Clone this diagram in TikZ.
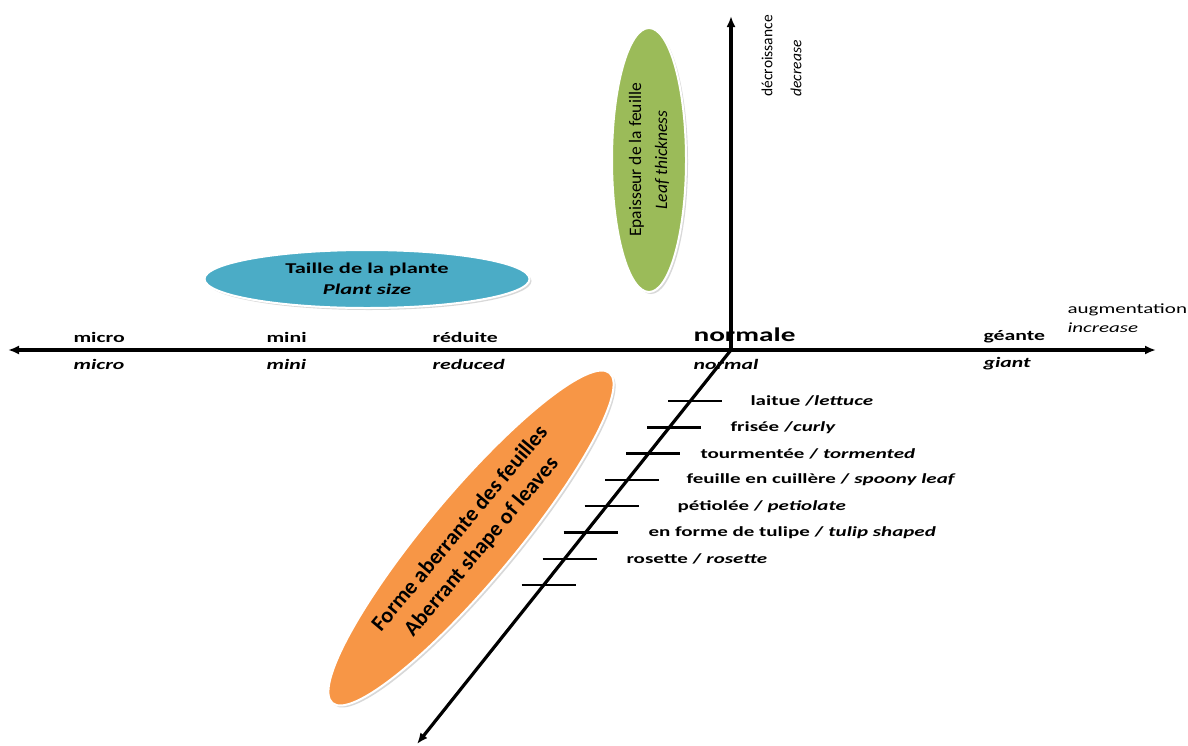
\documentclass[tikz,border=0pt]{standalone}
\usepackage{fontspec}
\setmainfont{Carlito}
\newfontfamily\widefont{Carlito}[FakeStretch=1.5]
\usetikzlibrary{arrows.meta,shapes.geometric,shadows,calc}

\definecolor{sizeblue}{HTML}{4BACC6}
\definecolor{leafgreen}{HTML}{9BBB59}
\definecolor{shapeorange}{HTML}{F79646}

\tikzset{
  axis/.style={line width=3.2pt, -{Latex[length=11pt,width=9pt]}},
  tickmark/.style={line width=2.4pt},
  blob/.style={ellipse, inner sep=0pt, draw=white, line width=2pt, align=center,
    drop shadow={shadow xshift=2pt, shadow yshift=-2pt, fill=black!30}},
  fr/.style={anchor=west, font=\widefont\bfseries\fontsize{14.5}{17}\selectfont},
  en/.style={anchor=west, font=\widefont\bfseries\itshape\fontsize{14.5}{17}\selectfont},
  kind/.style={anchor=west, font=\widefont\bfseries\fontsize{14}{16}\selectfont},
}

\begin{document}
\begin{tikzpicture}[x=1pt, y=-1pt]
    \useasboundingbox (0,0) rectangle (1188,745);

    % ellipses
    \node[blob, fill=sizeblue, minimum width=325pt, minimum height=58pt,
      font=\widefont\bfseries\fontsize{15}{21}\selectfont] (size) at (367,279)
      {Taille de la plante\\ \itshape Plant size};
    \node[blob, fill=leafgreen, minimum width=264pt, minimum height=74pt, rotate=90,
      font=\fontsize{17.5}{26}\selectfont] (thick) at (649,160)
      {Epaisseur de la feuille\\ \itshape Leaf thickness};
    \node[blob, fill=shapeorange, minimum width=431pt, minimum height=88pt, rotate=50,
      font=\bfseries\fontsize{22}{28}\selectfont] (form) at (471,538)
      {Forme aberrante des feuilles\\ Aberrant shape of leaves};

    % scale labels
    \node[fr] (micro) at (70,337) {micro};
    \node[en] (micro-en) at (70,364) {micro};
    \node[fr] (mini) at (263,337) {mini};
    \node[en] (mini-en) at (263,364) {mini};
    \node[fr] (reduite) at (429,337) {réduite};
    \node[en] (reduite-en) at (429,364) {reduced};
    \node[fr, font=\widefont\bfseries\fontsize{19.5}{22}\selectfont] (normale) at (690,335) {normale};
    \node[en] (normale-en) at (690,364) {normal};
    \node[fr] (geante) at (980,337) {géante};
    \node[en] (geante-en) at (980,364) {giant};

    \node[anchor=west, font=\widefont\fontsize{14}{16}\selectfont] (augm) at (1064,310) {augmentation};
    \node[anchor=west, font=\widefont\itshape\fontsize{14}{16}\selectfont] (augm-en) at (1064,328) {increase};
    \node[rotate=90, anchor=west, font=\fontsize{15.5}{18}\selectfont] (decr) at (767,100) {décroissance};
    \node[rotate=90, anchor=west, font=\itshape\fontsize{15.5}{18}\selectfont] (decr-en) at (796,100) {decrease};

    % axes
    \coordinate (O) at (731,350);
    \coordinate (L) at (8,350);
    \coordinate (R) at (1156,350);
    \coordinate (T) at (731,16);
    \coordinate (B) at (417,744);
    \draw[axis] (O) -- (L);
    \draw[axis] (O) -- (R);
    \draw[axis] (O) -- (T);
    \draw[axis] (O) -- (B);

    % ticks
    \foreach \i in {0,...,7} {
      \pgfmathsetmacro{\f}{(51+26.3*\i)/394}
      \coordinate (tick\i) at ($(O)!\f!(B)$);
      \draw[tickmark] ($(tick\i)+(-22,0)$) -- ($(tick\i)+(32,0)$);
    }

    % leaf shapes
    \node[kind] (lettuce) at (747,401) {laitue /\textit{lettuce}};
    \node[kind] (curly) at (727,427.3) {frisée /\textit{curly}};
    \node[kind] (tormented) at (697,453.6) {tourmentée / \textit{tormented}};
    \node[kind] (spoony) at (683,479.9) {feuille en cuillère / \textit{spoony leaf}};
    \node[kind] (petiolate) at (674,506.2) {pétiolée / \textit{petiolate}};
    \node[kind] (tulip) at (645,532.5) {en forme de tulipe / \textit{tulip shaped}};
    \node[kind] (rosette) at (623,558.8) {rosette / \textit{rosette}};
\end{tikzpicture}
\end{document}
